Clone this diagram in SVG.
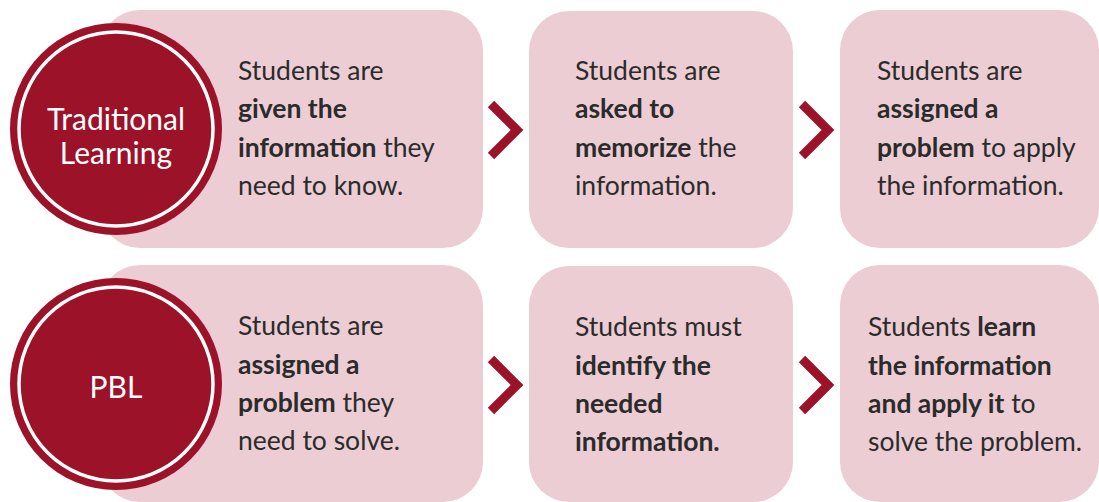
<svg xmlns="http://www.w3.org/2000/svg" width="1099" height="502" viewBox="0 0 1099 502">
<style>
.box{fill:#EBCDD3}
.t{font-family:Lato,"Noto Sans",sans-serif;font-size:26.5px;fill:#2b2b2b}
.b{font-weight:bold}
.ring{fill:#9C1229}
.inner{fill:#9C1229;stroke:#ffffff;stroke-width:3.5}
.ct{font-family:Lato,"Noto Sans",sans-serif;font-size:30px;fill:#ffffff;text-anchor:middle}
.chev{fill:none;stroke:#9C1229;stroke-width:9;stroke-linejoin:miter}
</style>
<rect width="1099" height="502" fill="#ffffff"/>
<g id="row1-box1">
<rect class="box" x="100" y="10" width="383" height="238" rx="40"/>
<text class="t" x="238" y="80">Students are</text>
<text class="t" x="238" y="118"><tspan class="b">given the</tspan></text>
<text class="t" x="238" y="157"><tspan class="b">information</tspan> they</text>
<text class="t" x="238" y="195">need to know.</text>
</g>
<g id="node-traditional">
<circle class="ring" cx="116" cy="129" r="106"/>
<circle class="inner" cx="116" cy="129" r="97"/>
<text class="ct" x="116" y="130">Traditional</text>
<text class="ct" x="116" y="164">Learning</text>
</g>
<g id="row1-box2">
<rect class="box" x="529" y="11" width="264" height="237" rx="40"/>
<text class="t" x="575" y="80">Students are</text>
<text class="t" x="575" y="118"><tspan class="b">asked to</tspan></text>
<text class="t" x="575" y="157"><tspan class="b">memorize</tspan> the</text>
<text class="t" x="575" y="195">information.</text>
</g>
<g id="row1-box3">
<rect class="box" x="840" y="10" width="259" height="238" rx="40"/>
<text class="t" x="877" y="80">Students are</text>
<text class="t" x="877" y="118"><tspan class="b">assigned a</tspan></text>
<text class="t" x="877" y="157"><tspan class="b">problem</tspan> to apply</text>
<text class="t" x="877" y="195">the information.</text>
</g>
<g id="row2-box1">
<rect class="box" x="100" y="265" width="383" height="237" rx="40"/>
<text class="t" x="238" y="335">Students are</text>
<text class="t" x="238" y="374"><tspan class="b">assigned a</tspan></text>
<text class="t" x="238" y="412"><tspan class="b">problem</tspan> they</text>
<text class="t" x="238" y="450">need to solve.</text>
</g>
<g id="node-pbl">
<circle class="ring" cx="116" cy="384" r="106"/>
<circle class="inner" cx="116" cy="384" r="97"/>
<text class="ct" x="116" y="398">PBL</text>
</g>
<g id="row2-box2">
<rect class="box" x="529" y="266" width="264" height="236" rx="40"/>
<text class="t" x="575" y="336">Students must</text>
<text class="t" x="575" y="375"><tspan class="b">identify the</tspan></text>
<text class="t" x="575" y="413"><tspan class="b">needed</tspan></text>
<text class="t" x="575" y="451"><tspan class="b">information.</tspan></text>
</g>
<g id="row2-box3">
<rect class="box" x="840" y="265" width="259" height="237" rx="40"/>
<text class="t" x="868" y="336">Students <tspan class="b">learn</tspan></text>
<text class="t" x="868" y="375"><tspan class="b">the information</tspan></text>
<text class="t" x="868" y="413"><tspan class="b">and apply it</tspan> to</text>
<text class="t" x="868" y="451">solve the problem.</text>
</g>
<g id="connectors">
<polyline class="chev" points="491,104 517,130 491,156"/>
<polyline class="chev" points="802,104 828,130 802,156"/>
<polyline class="chev" points="491,359 517,385 491,411"/>
<polyline class="chev" points="802,359 828,385 802,411"/>
</g>
</svg>
